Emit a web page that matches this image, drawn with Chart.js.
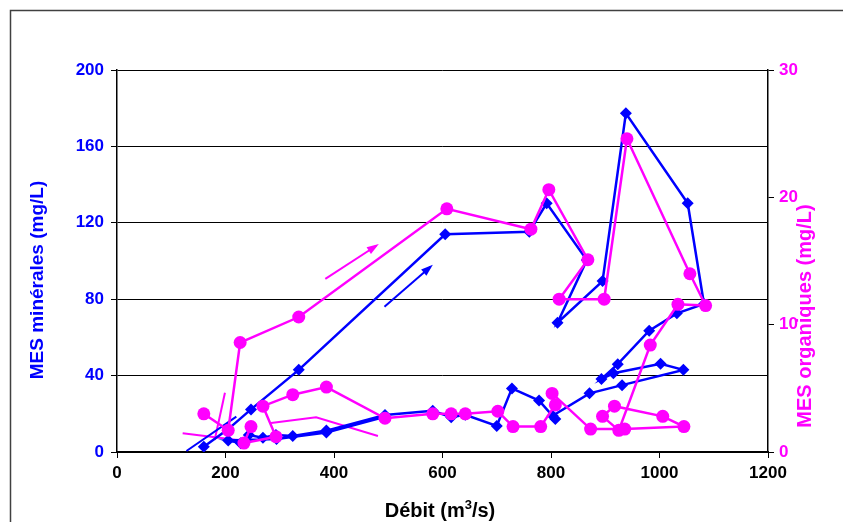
<!DOCTYPE html>
<html>
<head>
<meta charset="utf-8">
<script src="https://cdn.jsdelivr.net/npm/chart.js@4.4.0/dist/chart.umd.min.js"></script>
<style>
  html, body { margin: 0; padding: 0; background: #fff; }
</style>
</head>
<body>
<canvas id="chart" width="843" height="522"></canvas>
<script>
// discharge (m3/s) and mineral suspended matter (mg/L), left axis
const qMin = [160, 205, 247, 335, 605, 760, 792, 866, 812, 895, 938, 1052, 1082, 1032, 981, 923, 893, 915, 1002, 1044, 931, 871, 803, 808, 778, 728, 700, 642, 616, 582, 494, 386, 324, 293, 269, 243, 228, 205, 294, 386, 494];
const mesMin = [2.8, 12, 22.3, 43, 114, 115.3, 130.2, 100.5, 67.7, 89.5, 177.3, 130.2, 77.5, 72.6, 63.5, 46, 38.2, 41.2, 46.2, 43, 35, 30.7, 19, 17.3, 26.9, 33.3, 13.6, 19.5, 18.2, 21.6, 19.4, 11.2, 8.4, 8.9, 7.5, 8.9, 4.6, 6, 6.8, 10.2, 18.4];

// organic suspended matter (mg/L), right axis
const qOrg = [160, 205, 227, 335, 608, 763, 796, 868, 815, 898, 940, 1056, 1085, 1034, 983, 925, 895, 917, 1006, 1045, 936, 873, 802, 808, 781, 730, 702, 642, 616, 582, 494, 386, 324, 269, 293, 234, 247];
const mesOrg = [3.0, 1.7, 8.6, 10.6, 19.1, 17.5, 20.6, 15.1, 12.0, 12.0, 24.6, 14.0, 11.5, 11.6, 8.4, 1.7, 2.8, 3.6, 2.8, 2.0, 1.8, 1.8, 4.6, 3.7, 2.0, 2.0, 3.2, 3.0, 3.0, 3.0, 2.65, 5.1, 4.5, 3.6, 1.2, 0.7, 2.0];

// direction arrows drawn on the chart
const arrowMinQ = [493, 578];
const arrowMinV = [76, 97];
const arrowOrgQ = [384, 478];
const arrowOrgV = [13.6, 16.2];
const strokeMinQ = [128, 220];
const strokeMinV = [0.5, 18.5];
const strokeOrgAQ = [121, 222];
const strokeOrgAV = [1.47, 0.94];
const strokeOrgBQ = [199, 180];
const strokeOrgBV = [4.66, 0.94];
const strokeOrgCQ = [284, 367, 481];
const strokeOrgCV = [2.28, 2.73, 1.26];

const xTicks = [0, 200, 400, 600, 800, 1000, 1200];

const BLUE = "#0000ff";
const PINK = "#ff00ff";
const FONT = "'Liberation Sans', Arial, sans-serif";

const toPoints = (xs, ys) => xs.map((x, i) => ({ x: x, y: ys[i] }));

function stroke(xs, ys, color, axis, arrow) {
  return {
    data: toPoints(xs, ys),
    yAxisID: axis,
    borderColor: color,
    borderWidth: 2,
    pointRadius: 0,
    showLine: true,
    tension: 0,
    arrow: arrow,
  };
}

Chart.defaults.font.family = FONT;

const decor = {
  id: "decor",
  afterDraw(chart) {
    const ctx = chart.ctx;
    ctx.save();

    // outer frame
    ctx.strokeStyle = "#404040";
    ctx.lineWidth = 1.5;
    ctx.beginPath();
    ctx.moveTo(10.5, 530);
    ctx.lineTo(10.5, 10.5);
    ctx.lineTo(850, 10.5);
    ctx.stroke();

    // arrowheads
    chart.data.datasets.forEach((ds, i) => {
      if (!ds.arrow) return;
      const pts = chart.getDatasetMeta(i).data;
      const a = pts[pts.length - 2];
      const b = pts[pts.length - 1];
      const ang = Math.atan2(b.y - a.y, b.x - a.x);
      ctx.fillStyle = ds.borderColor;
      ctx.beginPath();
      ctx.moveTo(b.x + 3 * Math.cos(ang), b.y + 3 * Math.sin(ang));
      ctx.lineTo(b.x - 9 * Math.cos(ang) + 4 * Math.sin(ang), b.y - 9 * Math.sin(ang) - 4 * Math.cos(ang));
      ctx.lineTo(b.x - 9 * Math.cos(ang) - 4 * Math.sin(ang), b.y - 9 * Math.sin(ang) + 4 * Math.cos(ang));
      ctx.closePath();
      ctx.fill();
    });

    // x title with superscript
    ctx.textBaseline = "alphabetic";
    ctx.textAlign = "left";
    ctx.fillStyle = "#000";
    const big = "bold 20px " + FONT;
    const small = "bold 13px " + FONT;
    const parts = [["Débit (m", big, 0], ["3", small, -8], ["/s)", big, 0]];
    let w = 0;
    parts.forEach((p) => { ctx.font = p[1]; w += ctx.measureText(p[0]).width; });
    let x = 440 - w / 2;
    parts.forEach((p) => {
      ctx.font = p[1];
      ctx.fillText(p[0], x, 517 + p[2]);
      x += ctx.measureText(p[0]).width;
    });

    // y titles
    ctx.textAlign = "center";
    ctx.textBaseline = "middle";
    ctx.font = "bold 19px " + FONT;
    ctx.fillStyle = BLUE;
    ctx.save();
    ctx.translate(38, 280);
    ctx.rotate(-Math.PI / 2);
    ctx.fillText("MES minérales (mg/L)", 0, 0);
    ctx.restore();

    ctx.fillStyle = PINK;
    ctx.font = "bold 20px " + FONT;
    ctx.save();
    ctx.translate(805, 316);
    ctx.rotate(-Math.PI / 2);
    ctx.fillText("MES organiques (mg/L)", 0, 0);
    ctx.restore();

    ctx.restore();
  },
};

new Chart("chart", {
  type: "scatter",
  data: {
    datasets: [
      {
        data: toPoints(qOrg, mesOrg),
        yAxisID: "y2",
        borderColor: PINK,
        backgroundColor: PINK,
        borderWidth: 2.5,
        pointStyle: "circle",
        pointRadius: 6.5,
        pointBorderWidth: 0,
        showLine: true,
        tension: 0,
      },
      {
        data: toPoints(qMin, mesMin),
        yAxisID: "y",
        borderColor: BLUE,
        backgroundColor: BLUE,
        borderWidth: 2.5,
        pointStyle: "rectRot",
        pointRadius: 6,
        pointBorderWidth: 0,
        showLine: true,
        tension: 0,
      },
      stroke(arrowMinQ, arrowMinV, BLUE, "y", true),
      stroke(arrowOrgQ, arrowOrgV, PINK, "y2", true),
      stroke(strokeMinQ, strokeMinV, BLUE, "y", false),
      stroke(strokeOrgAQ, strokeOrgAV, PINK, "y2", false),
      stroke(strokeOrgBQ, strokeOrgBV, PINK, "y2", false),
      stroke(strokeOrgCQ, strokeOrgCV, PINK, "y2", false),
    ],
  },
  options: {
    responsive: false,
    animation: false,
    devicePixelRatio: 1,
    layout: { padding: { top: 70, left: 0, right: 0, bottom: 0 } },
    plugins: {
      legend: { display: false },
      tooltip: { enabled: false },
    },
    scales: {
      x: {
        type: "linear",
        min: 0,
        max: 1200,
        afterBuildTicks: (scale) => {
          scale.ticks = xTicks.map((v) => ({ value: v }));
        },
        afterFit: (scale) => {
          scale.height = 70;
        },
        ticks: {
          color: "#000",
          padding: 5,
          font: { size: 17, weight: "bold" },
          callback: (v) => String(v),
        },
        grid: { drawOnChartArea: false, color: "#000", tickLength: 6 },
        border: { color: "#000", width: 2 },
      },
      y: {
        position: "left",
        min: 0,
        max: 200,
        ticks: {
          stepSize: 40,
          color: BLUE,
          padding: 7,
          font: { size: 17, weight: "bold" },
        },
        afterFit: (scale) => {
          scale.width = 117;
        },
        grid: { color: "#000", lineWidth: 1, tickLength: 6 },
        border: { color: "#000", width: 1.5 },
      },
      y2: {
        position: "right",
        min: 0,
        max: 30,
        ticks: {
          stepSize: 10,
          color: PINK,
          padding: 5,
          font: { size: 17, weight: "bold" },
        },
        afterFit: (scale) => {
          scale.width = 75;
        },
        grid: { drawOnChartArea: false, color: "#000", tickLength: 6 },
        border: { color: "#000", width: 1.5 },
      },
    },
  },
  plugins: [decor],
});
</script>
</body>
</html>
